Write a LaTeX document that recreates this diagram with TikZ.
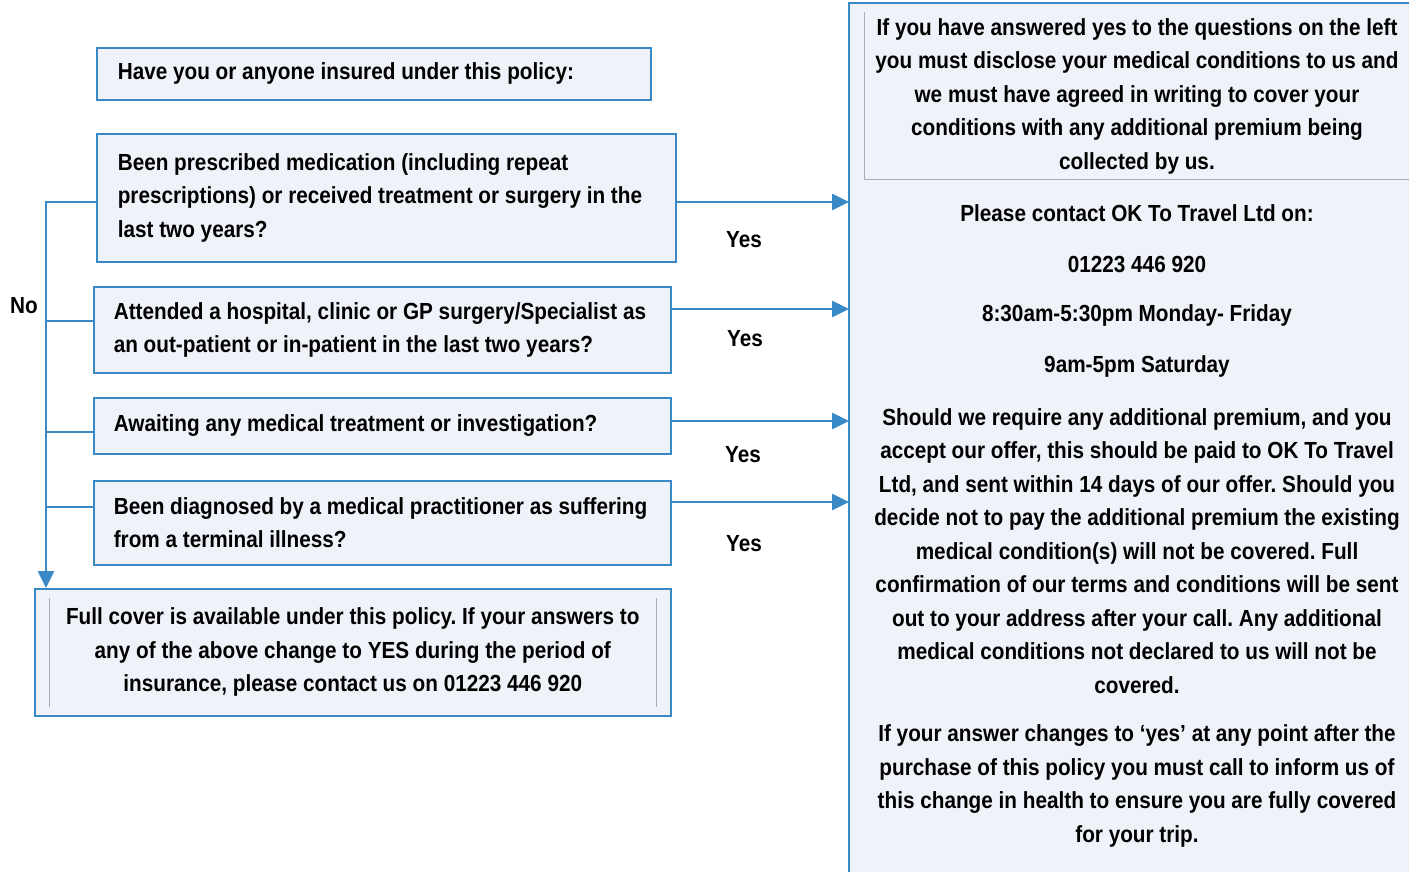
\documentclass[tikz,border=0pt]{standalone}
\usepackage{fontspec}
\setmainfont{Liberation Sans}[FakeStretch=0.89]
\usetikzlibrary{calc,positioning,arrows.meta}
\definecolor{okblue}{RGB}{58,137,199}
\definecolor{okfill}{RGB}{239,242,248}
\definecolor{okgray}{RGB}{170,172,176}
\newcommand{\qfont}{\fontsize{23.3}{33.5}\selectfont\frenchspacing}

\begin{document}
\begin{tikzpicture}[x=1pt,y=-1pt,
    qbox/.style={draw=okblue, fill=okfill, line width=1.6pt, anchor=north west, align=flush left, font=\bfseries\qfont},
    link/.style={okblue, line width=2.6pt},
    arr/.style={link, -{Triangle[length=17pt,width=16pt]}},
    lbl/.style={font=\bfseries\qfont, inner sep=0pt},
    rtext/.style={lbl, align=center}]
        \useasboundingbox (0,0) rectangle (1409,872);
        % right hand panel
        \node[fill=okfill, anchor=north west, minimum width=560pt, minimum height=869pt, inner sep=0pt] (panel) at (849,3) {};
        \draw[okblue, line width=2.6pt] (panel.south west) -- (panel.north west) -- (panel.north east);
        \draw[okgray, line width=0.8pt] ($(panel.north west)+(15,9)$) coordinate (g0) -- ($(g0)+(0,167)$) coordinate (g1) -- (g1 -| panel.east);
        % questions
        \node[qbox, inner xsep=21pt, text width=512pt, minimum height=52pt] (head) at (96,47) {Have you or anyone insured under this policy:};
        \node[qbox, inner xsep=21pt, text width=537pt, minimum height=128pt] (q1) at (96,133) {Been prescribed medication (including repeat\\prescriptions) or received treatment or surgery in the\\last two years?};
        \node[qbox, inner xsep=20pt, text width=537pt, minimum height=86pt] (q2) at (93,286) {Attended a hospital, clinic or GP surgery/Specialist as\\an out-patient or in-patient in the last two years?};
        \node[qbox, inner xsep=20pt, text width=537pt, minimum height=56pt] (q3) at (93,397) {Awaiting any medical treatment or investigation?};
        \node[qbox, inner xsep=20pt, text width=537pt, minimum height=84pt] (q4) at (93,480) {Been diagnosed by a medical practitioner as suffering\\from a terminal illness?};
        \node[qbox, align=flush center, inner xsep=15pt, text width=606pt, minimum height=127pt] (full) at (34,588) {Full cover is available under this policy. If your answers to\\any of the above change to YES during the period of\\insurance, please contact us on 01223 446 920};
        \draw[okgray, line width=0.8pt] ($(full.north west)+(15,10)$) -- ($(full.south west)+(15,-10)$);
        \draw[okgray, line width=0.8pt] ($(full.north east)+(-15,10)$) -- ($(full.south east)+(-15,-10)$);
        % the No trunk
        \coordinate (top) at (46,202);
        \draw[arr] (q1.west |- top) -- (top) -- (top |- full.north);
        \node[lbl] (no) at (24,306) {No};
        \foreach \q/\ny in {q2/321, q3/432, q4/507}{
          \coordinate (nb) at (46,\ny);
          \draw[link] (\q.west |- nb) -- (nb);
        }
        % the Yes arrows
        \foreach \q/\yy/\lx/\ly in {q1/202/744/240, q2/309/745/339, q3/421/743/455, q4/502/744/544}{
          \coordinate (yb) at (0,\yy);
          \draw[arr] (\q.east |- yb) -- (panel.west |- yb);
          \node[lbl] (yes\q) at (\lx,\ly) {Yes};
        }
        % panel text
        \node[rtext] (disclose) at (1137,96) {If you have answered yes to the questions on the left\\you must disclose your medical conditions to us and\\we must have agreed in writing to cover your\\conditions with any additional premium being\\collected by us.};
        \node[rtext] (contact) at (1137,213) {Please contact OK To Travel Ltd on:};
        \node[rtext] (phone) at (1137,264) {01223 446 920};
        \node[rtext] (week) at (1137,315) {8:30am-5:30pm Monday- Friday};
        \node[rtext] (sat) at (1137,366) {9am-5pm Saturday};
        \node[rtext] (premium) at (1137,551) {Should we require any additional premium, and you\\accept our offer, this should be paid to OK To Travel\\Ltd, and sent within 14 days of our offer. Should you\\decide not to pay the additional premium the existing\\medical condition(s) will not be covered. Full\\confirmation of our terms and conditions will be sent\\out to your address after your call. Any additional\\medical conditions not declared to us will not be\\covered.};
        \node[rtext] (change) at (1137,786) {If your answer changes to ‘yes’ at any point after the\\purchase of this policy you must call to inform us of\\this change in health to ensure you are fully covered\\for your trip.};
\end{tikzpicture}
\end{document}
